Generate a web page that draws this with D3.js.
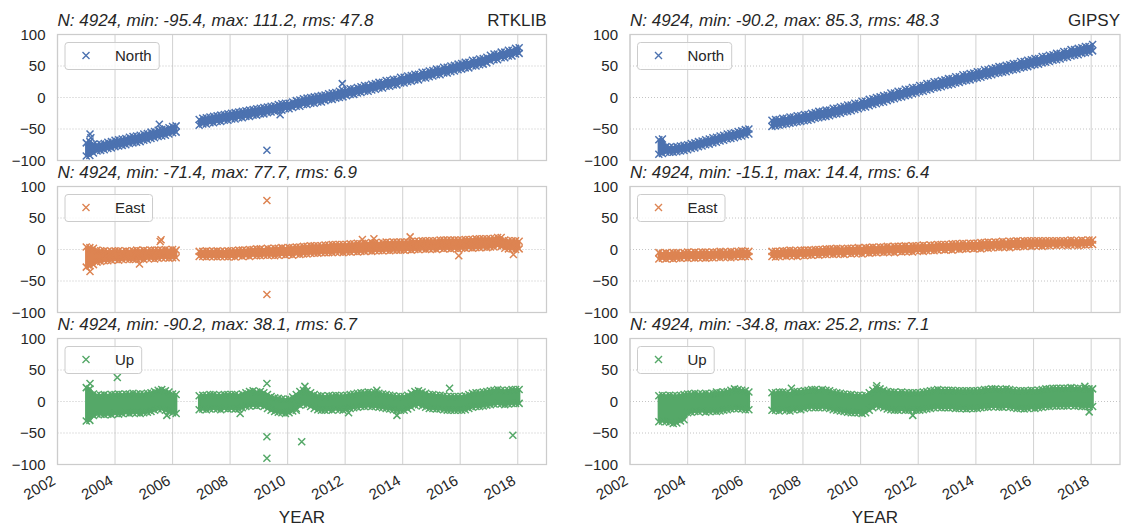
<!DOCTYPE html>
<html>
<head>
<meta charset="utf-8">
<script src="https://cdn.jsdelivr.net/npm/d3@7"></script>
<style>
  body { margin: 0; background: #ffffff; }
  text { font-family: "Liberation Sans", Arial, sans-serif; fill: #262626; }
</style>
</head>
<body>
<svg id="chart" width="1124" height="530"></svg>
<script>
// Sampling epochs (decimal year) of the daily solutions, summarised per ~45-day window
const epochs = [
  2003.000, 2003.125, 2003.250, 2003.375, 2003.500, 2003.625, 2003.750, 2003.875,
  2004.000, 2004.125, 2004.250, 2004.375, 2004.500, 2004.625, 2004.750, 2004.875,
  2005.000, 2005.125, 2005.250, 2005.375, 2005.500, 2005.625, 2005.750, 2005.875,
  2006.000, 2006.125,
  2006.925,
  2007.050, 2007.175, 2007.300, 2007.425, 2007.550, 2007.675, 2007.800, 2007.925,
  2008.050, 2008.175, 2008.300, 2008.425, 2008.550, 2008.675, 2008.800, 2008.925,
  2009.050, 2009.175, 2009.300, 2009.425, 2009.550, 2009.675, 2009.800, 2009.925,
  2010.050, 2010.175, 2010.300, 2010.425, 2010.550, 2010.675, 2010.800, 2010.925,
  2011.050, 2011.175, 2011.300, 2011.425, 2011.550, 2011.675, 2011.800, 2011.925,
  2012.050, 2012.175, 2012.300, 2012.425, 2012.550, 2012.675, 2012.800, 2012.925,
  2013.050, 2013.175, 2013.300, 2013.425, 2013.550, 2013.675, 2013.800, 2013.925,
  2014.050, 2014.175, 2014.300, 2014.425, 2014.550, 2014.675, 2014.800, 2014.925,
  2015.050, 2015.175, 2015.300, 2015.425, 2015.550, 2015.675, 2015.800, 2015.925,
  2016.050, 2016.175, 2016.300, 2016.425, 2016.550, 2016.675, 2016.800, 2016.925,
  2017.050, 2017.175, 2017.300, 2017.425, 2017.550, 2017.675, 2017.800, 2017.925,
  2018.050
];

const tickYears = [2002, 2004, 2006, 2008, 2010, 2012, 2014, 2016, 2018];
const yTicks = [-100, -50, 0, 50, 100];
const components = ["North", "East", "Up"];
const solutions = ["RTKLIB", "GIPSY"];
const colors = ["#4c72b0", "#dd8452", "#55a868"];

const rtkTitles = [
  "N: 4924, min: -95.4, max: 111.2, rms: 47.8",
  "N: 4924, min: -71.4, max: 77.7, rms: 6.9",
  "N: 4924, min: -90.2, max: 38.1, rms: 6.7"
];
const gipsyTitles = [
  "N: 4924, min: -90.2, max: 85.3, rms: 48.3",
  "N: 4924, min: -15.1, max: 14.4, rms: 6.4",
  "N: 4924, min: -34.8, max: 25.2, rms: 7.1"
];

// Lower / upper envelope of the daily cloud in each window (mm)
const rtkNorthLo = [
  -93,-92,-88,-85,-84,-83,-81,-80, -78,-77,-76,-75,-73,-72,-71,-70,
  -68,-67,-65,-64,-62,-61,-60,-58, -56,-55,
  -44,
  -42,-42,-40,-40,-38,-38,-36,-36,
  -34,-34,-32,-32,-30,-30,-28,-28,
  -26,-26,-24,-23,-22,-20,-20,-18,
  -18,-16,-14,-14,-11,-11,-9,-9,
  -7,-7,-5,-3,-3,-1,0,1,
  3,5,5,7,8,10,10,12,
  13,15,15,18,18,20,20,23,
  23,25,26,28,28,31,31,33,
  34,36,36,39,39,41,42,44,
  45,47,47,50,50,52,53,55,
  58,60,60,63,63,66,66,69,
  70
];
const rtkNorthHi = [
  -72,-70,-74,-75,-74,-73,-71,-70, -68,-67,-66,-65,-63,-62,-61,-60,
  -58,-57,-55,-54,-52,-51,-50,-48, -46,-45,
  -35,
  -33,-32,-31,-30,-29,-28,-27,-26,
  -25,-24,-23,-22,-21,-20,-19,-18,
  -17,-16,-15,-14,-13,-11,-10,-9,
  -9,-7,-5,-4,-2,-1,0,1,
  2,3,4,6,7,8,10,11,
  12,14,14,16,17,19,19,21,
  22,24,24,27,27,29,29,32,
  32,34,35,37,37,40,40,42,
  43,45,45,48,48,50,51,53,
  54,56,56,59,59,61,62,64,
  67,69,69,72,72,75,75,78,
  79
];
const rtkEastLo = [
  -28,-26,-24,-20,-19,-18,-18,-17, -16,-17,-16,-15,-16,-16,-15,-15,
  -16,-14,-14,-15,-14,-13,-13,-14, -13,-13,
  -11,
  -11,-12,-11,-11,-12,-11,-11,-12,
  -11,-12,-10,-11,-10,-11,-9,-10,
  -10,-9,-9,-9,-10,-9,-8,-9,
  -8,-9,-7,-8,-7,-7,-6,-6,
  -6,-5,-5,-5,-5,-4,-4,-5,
  -4,-4,-3,-4,-3,-3,-2,-3,
  -2,-2,-2,-1,-2,-1,-1,-1,
  -1,0,-1,0,0,1,0,1,
  1,0,2,1,2,1,2,1,
  2,2,3,2,3,3,4,3,
  4,4,6,5,2,1,1,0,
  1
];
const rtkEastHi = [
  4,3,2,-1,-2,-2,-3,-3, -2,-2,-3,-2,-3,-2,-1,-2,
  -1,-2,-1,-1,-1,-1,0,-1, 0,-1,
  -3,
  -3,-2,-3,-3,-2,-3,-3,-2,
  -2,-2,-1,-1,-1,0,0,1,
  1,0,2,1,2,2,3,2,
  3,3,4,4,5,5,6,6,
  6,6,7,7,8,8,8,8,
  8,9,9,10,9,10,10,11,
  11,10,11,12,11,12,12,12,
  12,12,13,13,13,14,14,14,
  14,14,15,15,15,15,15,15,
  15,16,16,16,17,17,17,17,
  17,18,19,19,15,14,14,14,
  13
];
const rtkUpLo = [
  -31,-30,-22,-20,-20,-21,-20,-21, -19,-20,-19,-18,-19,-18,-18,-19,
  -18,-17,-16,-14,-12,-12,-14,-16, -18,-19,
  -13,
  -12,-13,-12,-11,-12,-13,-11,-12,
  -11,-12,-12,-10,-8,-7,-6,-7,
  -6,-8,-11,-14,-16,-17,-18,-19,
  -18,-15,-11,-6,-4,-5,-8,-11,
  -13,-14,-14,-13,-14,-12,-13,-14,
  -12,-11,-10,-9,-8,-8,-7,-8,
  -8,-9,-10,-11,-12,-13,-14,-14,
  -14,-12,-9,-6,-5,-7,-9,-11,
  -11,-12,-12,-13,-14,-14,-14,-14,
  -14,-13,-11,-9,-8,-8,-7,-6,
  -5,-4,-3,-4,-5,-4,-3,-3,
  -3
];
const rtkUpHi = [
  22,20,12,10,10,11,10,11, 11,12,11,12,12,13,12,12,
  12,13,14,16,18,19,17,15, 12,11,
  9,
  10,10,11,11,10,10,11,11,
  11,11,10,12,14,16,17,15,
  16,14,11,8,6,5,4,3,
  4,7,11,16,18,17,14,11,
  9,9,8,9,9,10,9,9,
  10,11,12,13,14,14,15,14,
  14,13,12,11,10,9,8,8,
  8,10,13,16,17,15,13,11,
  11,10,10,9,8,8,8,8,
  8,9,11,13,14,14,15,16,
  17,18,19,18,17,18,19,19,
  19
];

const gipsyNorthLo = [
  -90,-89,-87,-87,-87,-86,-85,-84, -83,-81,-80,-78,-77,-75,-74,-72,
  -71,-69,-68,-66,-65,-64,-62,-61, -59,-58,
  -46,
  -45,-44,-43,-42,-41,-40,-39,-38,
  -37,-36,-35,-33,-32,-31,-30,-29,
  -27,-26,-25,-23,-22,-21,-19,-18,
  -16,-15,-13,-11,-10,-8,-7,-5,
  -3,-2,0,1,3,4,6,7,
  9,10,12,13,15,16,17,19,
  20,21,23,24,26,27,28,30,
  31,32,34,35,36,38,39,40,
  41,43,44,45,47,48,49,51,
  52,53,55,56,57,59,60,61,
  63,64,66,67,68,70,71,72,
  74
];
const gipsyNorthHi = [
  -67,-66,-78,-79,-79,-78,-77,-76, -75,-73,-72,-70,-69,-67,-66,-64,
  -63,-61,-60,-58,-57,-56,-54,-53, -51,-50,
  -36,
  -35,-35,-33,-33,-31,-31,-29,-29,
  -27,-27,-25,-24,-22,-22,-20,-20,
  -17,-17,-15,-14,-12,-12,-9,-9,
  -6,-6,-3,-2,0,1,3,4,
  7,7,10,10,13,13,16,16,
  19,19,22,22,25,25,27,28,
  30,30,33,33,36,36,38,39,
  41,41,44,44,46,47,49,49,
  51,52,54,54,57,57,59,60,
  62,62,65,65,67,68,70,70,
  73,73,76,76,78,79,81,81,
  84
];
const gipsyEastLo = [
  -15,-14,-15,-14,-15,-14,-14,-13, -14,-13,-14,-13,-13,-14,-13,-13,
  -12,-13,-12,-12,-13,-12,-11,-12, -11,-11,
  -11,
  -12,-11,-10,-11,-10,-10,-11,-9,
  -10,-9,-9,-8,-9,-8,-8,-7,
  -8,-7,-7,-8,-6,-7,-6,-6,
  -7,-5,-6,-5,-5,-4,-5,-4,
  -4,-5,-3,-4,-3,-3,-4,-2,
  -2,-3,-2,-1,-2,-1,0,-1,
  0,-1,1,0,1,1,2,1,
  2,1,3,2,3,4,3,4,
  4,3,5,4,5,5,6,5,
  6,6,5,6,6,7,6,7,
  7,6,7,7,6,7,7,8,
  8
];
const gipsyEastHi = [
  -5,-6,-5,-6,-5,-5,-6,-5, -4,-5,-4,-5,-4,-4,-5,-4,
  -4,-3,-4,-4,-3,-4,-3,-2, -3,-3,
  -3,
  -3,-3,-2,-2,-1,-2,-2,-1,
  -1,-1,-1,0,0,0,1,1,
  1,2,1,1,2,2,2,3,
  2,3,3,4,3,4,4,5,
  4,5,5,5,6,5,6,6,
  6,7,6,7,7,8,8,8,
  8,9,9,9,10,9,10,10,
  10,11,11,12,11,12,12,13,
  12,13,13,14,13,14,14,14,
  14,14,14,14,14,14,14,14,
  14,14,15,14,14,15,14,15,
  15
];
const gipsyUpLo = [
  -32,-31,-32,-33,-35,-34,-31,-29, -18,-17,-16,-16,-15,-17,-16,-15,
  -16,-15,-14,-13,-12,-11,-11,-12, -13,-13,
  -14,
  -14,-15,-13,-14,-15,-13,-12,-13,
  -11,-10,-9,-10,-10,-9,-10,-11,
  -13,-14,-15,-16,-17,-18,-18,-18,
  -19,-18,-14,-10,-7,-8,-10,-12,
  -13,-14,-14,-13,-14,-14,-13,-14,
  -14,-13,-12,-11,-10,-9,-10,-10,
  -10,-10,-11,-11,-11,-12,-11,-11,
  -11,-10,-9,-9,-8,-8,-9,-9,
  -8,-9,-10,-11,-11,-12,-11,-10,
  -11,-10,-9,-8,-8,-7,-7,-7,
  -7,-7,-6,-7,-7,-8,-8,-8,
  -8
];
const gipsyUpHi = [
  9,10,9,10,9,9,10,11, 12,12,13,12,12,13,12,13,
  12,14,15,16,18,20,19,18, 17,15,
  14,
  14,15,15,14,13,15,16,16,
  17,18,19,19,18,19,18,17,
  15,14,13,12,11,11,10,10,
  9,10,14,18,21,20,18,16,
  15,15,14,15,14,14,14,14,
  14,15,16,17,18,19,18,18,
  18,18,17,17,17,17,17,17,
  17,18,19,19,20,20,19,19,
  20,19,18,17,17,17,17,18,
  17,18,19,20,20,21,21,21,
  21,21,22,21,21,20,20,20,
  20
];

// Isolated solutions lying off the main cloud: [year, value]
const rtkNorthOut = [[2003.13, -58], [2003.16, -64], [2005.54, -42.6], [2009.28, -83.7], [2009.74, -27.5], [2011.9, 22]];
const rtkEastOut = [[2003.13, -35], [2004.85, -23], [2005.57, 12.7], [2005.6, 15.5], [2009.28, 77.7], [2009.28, -71.4],
                    [2012.6, 16], [2013.0, 17], [2014.26, 20], [2015.95, -10], [2017.85, -8]];
const rtkUpOut = [[2003.13, 28.5], [2004.08, 38.1], [2005.8, -22], [2008.35, -19], [2009.28, 28.5], [2009.28, -56],
                  [2009.28, -90.2], [2010.49, -64], [2012.12, -18], [2017.83, -53.5], [2015.63, 21], [2013.1, 18],
                  [2013.8, -22], [2010.6, 24], [2010.3, -14]];
const gipsyNorthOut = [];
const gipsyEastOut = [];
const gipsyUpOut = [[2011.81, -22], [2017.93, -16.5], [2017.78, 24], [2010.56, 25], [2007.6, 21], [2005.0, 15]];

const panels = [
  [rtkNorthLo, rtkNorthHi, rtkNorthOut, gipsyNorthLo, gipsyNorthHi, gipsyNorthOut],
  [rtkEastLo, rtkEastHi, rtkEastOut, gipsyEastLo, gipsyEastHi, gipsyEastOut],
  [rtkUpLo, rtkUpHi, rtkUpOut, gipsyUpLo, gipsyUpHi, gipsyUpOut]
];

// ---- layout ----
const colLeft = [57.5, 630];
const colRight = [546.5, 1120];
const rowTop = [34.5, 186.5, 338.5];
const panelH = 126;

const svg = d3.select("#chart");
const xMarker = "M-3.5,-3.5L3.5,3.5M-3.5,3.5L3.5,-3.5";
const fmtTick = v => (v < 0 ? "\u2212" + Math.abs(v) : String(v));

panels.forEach((row, r) => {
  [0, 1].forEach(c => {
    const lo = row[c * 3], hi = row[c * 3 + 1], out = row[c * 3 + 2];
    if (lo.length !== epochs.length || hi.length !== epochs.length) {
      console.error("length mismatch", r, c, lo.length, hi.length);
    }
    const x = d3.scaleLinear().domain([2002, 2019]).range([colLeft[c], colRight[c]]);
    const y = d3.scaleLinear().domain([-100, 100]).range([rowTop[r] + panelH, rowTop[r]]);
    const color = colors[r];
    const g = svg.append("g");
    const clipId = `clip-${r}-${c}`;
    svg.append("clipPath").attr("id", clipId)
      .append("rect").attr("x", colLeft[c]).attr("y", rowTop[r])
      .attr("width", colRight[c] - colLeft[c]).attr("height", panelH);

    // grid
    g.selectAll(".vg").data(tickYears).join("line")
      .attr("x1", d => x(d)).attr("x2", d => x(d))
      .attr("y1", rowTop[r]).attr("y2", rowTop[r] + panelH)
      .attr("stroke", "#d5d5d5").attr("stroke-width", 1.1);
    g.selectAll(".hg").data(yTicks.slice(1, -1)).join("line")
      .attr("x1", colLeft[c]).attr("x2", colRight[c])
      .attr("y1", d => y(d)).attr("y2", d => y(d))
      .attr("stroke", "#bdbdbd").attr("stroke-width", 0.9)
      .attr("stroke-dasharray", "1,2");

    // data cloud: filled envelope plus the edge and isolated solutions as x markers
    const pts = epochs.map((t, i) => ({ t, lo: lo[i], hi: hi[i] }));
    const segments = [];
    pts.forEach((p, i) => {
      if (i === 0 || p.t - pts[i - 1].t > 0.3) segments.push([]);
      segments[segments.length - 1].push(p);
    });
    const area = d3.area().x(d => x(d.t)).y0(d => y(d.lo)).y1(d => y(d.hi));
    const data = g.append("g").attr("clip-path", `url(#${clipId})`);
    data.selectAll(".band").data(segments).join("path")
      .attr("d", area).attr("fill", color).attr("stroke", color)
      .attr("stroke-width", 2.4).attr("stroke-linejoin", "round");
    const edgePts = [];
    pts.forEach(p => { edgePts.push([p.t, p.lo]); edgePts.push([p.t, p.hi]); });
    out.forEach(o => edgePts.push(o));
    data.selectAll(".mk").data(edgePts).join("path")
      .attr("d", xMarker)
      .attr("transform", d => `translate(${x(d[0])},${y(d[1])})`)
      .attr("fill", "none").attr("stroke", color).attr("stroke-width", 1.5);

    // frame
    g.append("rect").attr("x", colLeft[c]).attr("y", rowTop[r])
      .attr("width", colRight[c] - colLeft[c]).attr("height", panelH)
      .attr("fill", "none").attr("stroke", "#cccccc").attr("stroke-width", 1.25);

    // y tick labels
    g.selectAll(".yl").data(yTicks).join("text")
      .attr("x", colLeft[c] - 12).attr("y", d => y(d)).attr("dy", "0.35em")
      .attr("text-anchor", "end").attr("font-size", 15)
      .text(fmtTick);

    // x tick labels on the bottom row
    if (r === 2) {
      g.selectAll(".xl").data(tickYears).join("text")
        .attr("transform", d => `translate(${x(d) - 1},${rowTop[r] + panelH + 19}) rotate(-30)`)
        .attr("text-anchor", "end").attr("font-size", 15)
        .text(d => d);
      g.append("text").attr("x", (colLeft[c] + colRight[c]) / 2).attr("y", 523)
        .attr("text-anchor", "middle").attr("font-size", 17).text("YEAR");
    }

    // titles
    g.append("text").attr("x", colLeft[c]).attr("y", rowTop[r] - 8.5)
      .attr("font-size", 17).attr("font-style", "italic")
      .text(c === 0 ? rtkTitles[r] : gipsyTitles[r]);
    if (r === 0) {
      g.append("text").attr("x", colRight[c]).attr("y", rowTop[r] - 8.5)
        .attr("text-anchor", "end").attr("font-size", 17).text(solutions[c]);
    }

    // legend
    const lg = g.append("g");
    const box = lg.append("rect").attr("x", colLeft[c] + 7.5).attr("y", rowTop[r] + 8)
      .attr("height", 27).attr("rx", 3).attr("ry", 3)
      .attr("fill", "#ffffff").attr("fill-opacity", 0.8)
      .attr("stroke", "#cccccc").attr("stroke-width", 1);
    lg.append("path").attr("d", xMarker)
      .attr("transform", `translate(${colLeft[c] + 28.5},${rowTop[r] + 21})`)
      .attr("fill", "none").attr("stroke", color).attr("stroke-width", 1.4);
    const lt = lg.append("text").attr("x", colLeft[c] + 57.5).attr("y", rowTop[r] + 26.5)
      .attr("font-size", 15).text(components[r]);
    const tw = lt.node().getComputedTextLength();
    box.attr("width", 50 + tw + 7.5);
  });
});
</script>
</body>
</html>
